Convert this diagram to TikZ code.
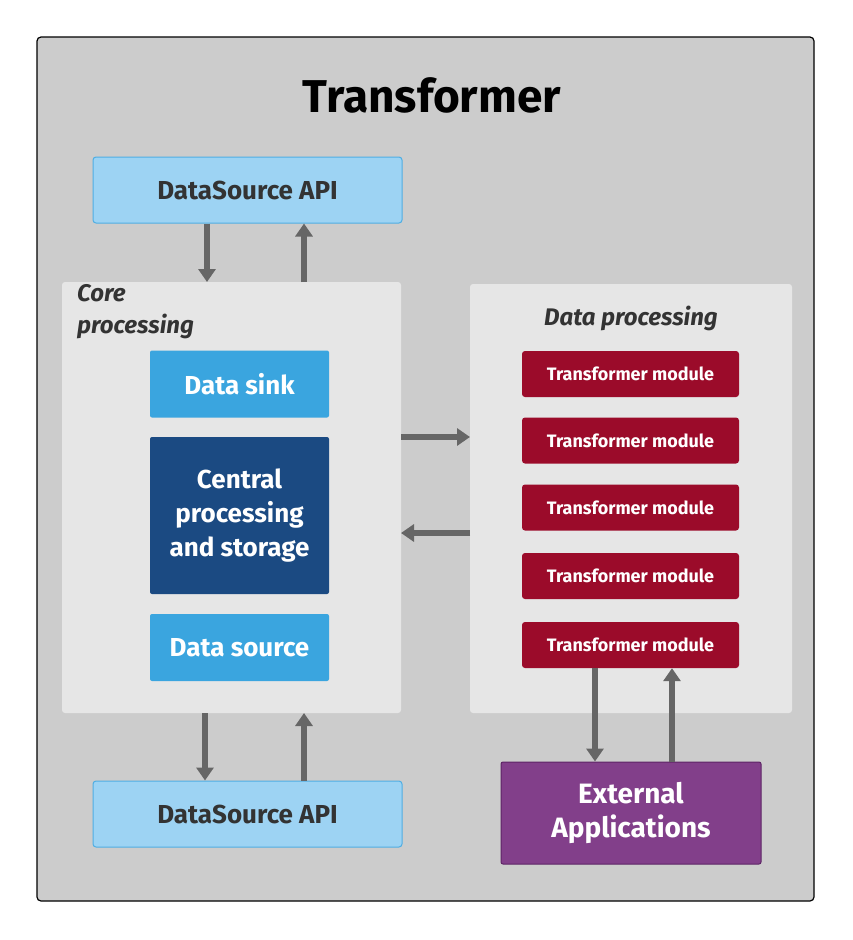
\documentclass[tikz,border=0pt]{standalone}
\usepackage{fontspec}
\setmainfont{Fira Sans}
\usetikzlibrary{arrows.meta,calc}
\definecolor{outer}{HTML}{CCCCCC}
\definecolor{panel}{HTML}{E6E6E6}
\definecolor{api}{HTML}{9DD3F3}
\definecolor{apib}{HTML}{4FAEE3}
\definecolor{sink}{HTML}{3AA5DF}
\definecolor{central}{HTML}{1B4A82}
\definecolor{module}{HTML}{9B0B2A}
\definecolor{ext}{HTML}{823F8A}
\definecolor{extb}{HTML}{5E2466}
\definecolor{arr}{HTML}{666666}
\definecolor{txt}{HTML}{333333}
\begin{document}
\begin{tikzpicture}[x=1pt,y=-1pt,
  apinode/.style={fill=api,draw=apib,line width=1pt,rounded corners=3pt,minimum width=309pt,minimum height=66pt,inner sep=0pt,font=\bfseries\fontsize{26}{30}\selectfont,text=txt},
  blue/.style={fill=sink,rounded corners=2pt,minimum width=179pt,minimum height=67pt,inner sep=0pt,font=\bfseries\fontsize{26}{34}\selectfont,text=white,align=center},
  mod/.style={fill=module,rounded corners=3pt,minimum width=217pt,minimum height=46pt,inner sep=0pt,font=\bfseries\fontsize{18}{20}\selectfont,text=white},
  ar/.style={draw=arr,line width=6pt,-{Triangle[length=13pt,width=17pt]}}]
\useasboundingbox (0,0) rectangle (852,940);
\draw[fill=outer,draw=black,line width=1.2pt,rounded corners=4pt] (37,37) rectangle (814,901);
\node[font=\bfseries\fontsize{46}{52}\selectfont,text=black] (title) at (432,95) {Transformer};
\node[apinode] (apitop) at (247.5,190) {DataSource API};
\node[apinode] (apibot) at (247.5,814) {DataSource API};
\fill[panel,rounded corners=3pt] (62,282) rectangle (401,713);
\node[anchor=north west,align=left,font=\itshape\bfseries\fontsize{24}{32}\selectfont,text=txt,inner sep=0pt] (corelbl) at (77,284) {Core\\processing};
\node[blue] (sink) at (239.5,384) {Data sink};
\node[blue,fill=central,minimum height=157pt] (central) at (239.5,515.5) {Central\\processing\\and storage};
\node[blue] (source) at (239.5,647.5) {Data source};
\fill[panel,rounded corners=3pt] (470,284) rectangle (792,713);
\node[font=\itshape\bfseries\fontsize{24}{28}\selectfont,text=txt] (dplbl) at (631,318) {Data processing};
\node[mod] (m1) at (630.5,374) {Transformer module};
\node[mod] (m2) at (630.5,440.5) {Transformer module};
\node[mod] (m3) at (630.5,507.5) {Transformer module};
\node[mod] (m4) at (630.5,576) {Transformer module};
\node[mod] (m5) at (630.5,645) {Transformer module};
\node[fill=ext,draw=extb,line width=1pt,rounded corners=2pt,minimum width=260pt,minimum height=102pt,inner sep=0pt,align=center,font=\bfseries\fontsize{28}{34}\selectfont,text=white] (ext) at (631,813) {External\\Applications};
\draw[ar] (apitop.south -| 207,0) -- (207,282);
\draw[ar] (304,282) -- (apitop.south -| 304,0);
\draw[ar] (401,437) -- (470,437);
\draw[ar] (470,533) -- (401,533);
\draw[ar] (205,713) -- (apibot.north -| 205,0);
\draw[ar] (apibot.north -| 304,0) -- (304,713);
\draw[ar] (m5.south -| 595,0) -- (ext.north -| 595,0);
\draw[ar] (ext.north -| 672,0) -- (m5.south -| 672,0);
\end{tikzpicture}
\end{document}
